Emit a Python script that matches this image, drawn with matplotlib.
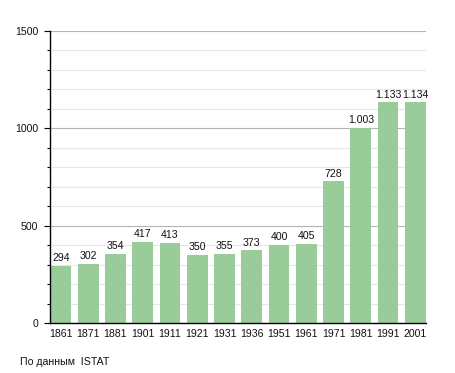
import matplotlib
matplotlib.use("Agg")
import matplotlib.pyplot as plt
from matplotlib.ticker import MultipleLocator

years = ["1861", "1871", "1881", "1901", "1911", "1921", "1931", "1936",
         "1951", "1961", "1971", "1981", "1991", "2001"]
population = [294, 302, 354, 417, 413, 350, 355, 373, 400, 405, 728, 1003, 1133, 1134]
source_text = "По данным  ISTAT"

plt.rcParams['font.family'] = ['Liberation Sans', 'DejaVu Sans']
fs = 7.6

fig = plt.figure(figsize=(4.55, 3.73), dpi=100)
ax = fig.add_axes([50/455, 1-323/373, 376/455, 292/373])

x = list(range(len(years)))
bars = ax.bar(x, population, width=0.76, color='#99cc99', zorder=3)

def fmt(v):
    return f"{v:,}".replace(",", ".")

for xi, v in zip(x, population):
    ax.text(xi, v + 14, fmt(v), ha='center', va='bottom', fontsize=fs, color='#111111', zorder=4)

ax.set_xlim(-0.4, 13.39)
ax.set_ylim(0, 1500)
ax.yaxis.set_major_locator(MultipleLocator(500))
ax.yaxis.set_minor_locator(MultipleLocator(100))
ax.set_xticks(x)
ax.set_xticklabels(years)

ax.grid(axis='y', which='minor', color='#e6e6e6', linewidth=0.8, zorder=0)
ax.grid(axis='y', which='major', color='#b4b4b4', linewidth=0.8, zorder=1)
ax.set_axisbelow(True)

for s in ['top', 'right']:
    ax.spines[s].set_visible(False)
for s in ['left', 'bottom']:
    ax.spines[s].set_color('black')
    ax.spines[s].set_linewidth(1.0)
    ax.spines[s].set_zorder(5)

ax.tick_params(axis='y', which='major', length=4, width=0.8, pad=4.5, labelsize=fs, colors='black', labelcolor='#111111')
ax.tick_params(axis='y', which='minor', length=2, width=0.8)
ax.tick_params(axis='x', which='both', length=0, pad=4, labelsize=fs, labelcolor='#111111')

fig.text(20/455, 1-362/373, source_text, ha='left', va='center', fontsize=fs, color='#111111')

fig.savefig("out.png", dpi=100, facecolor='white')
